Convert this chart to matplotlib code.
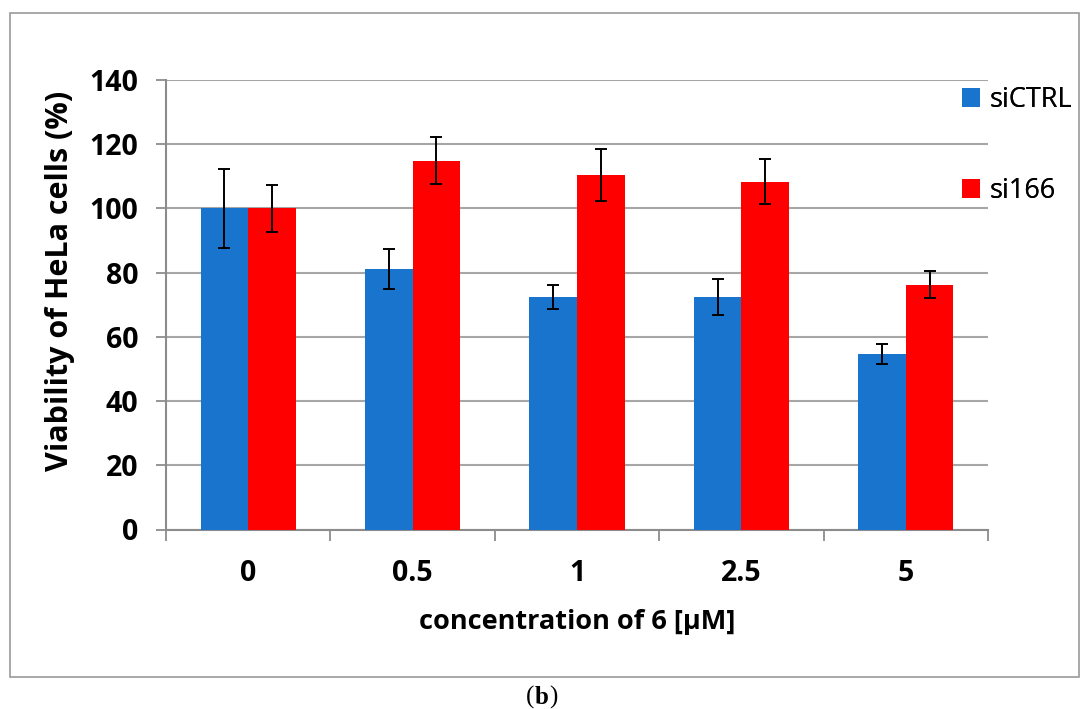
import matplotlib.pyplot as plt
import matplotlib.patches as mpatches
import numpy as np

conc = ["0", "0.5", "1", "2.5", "5"]
ctrl = [100, 81.2, 72.5, 72.4, 54.6]
ctrl_err = [12.3, 6.3, 3.8, 5.7, 3.1]
si166 = [100, 114.9, 110.4, 108.3, 76.3]
si166_err = [7.3, 7.2, 8.0, 7.0, 4.2]

blue = "#1874CD"
red = "#FF0000"
grid_c = "#A6A6A6"
axis_c = "#8C8C8C"

plt.rcParams['font.family'] = ['Open Sans', 'DejaVu Sans']

fig = plt.figure(figsize=(10.83, 7.09), dpi=100)
ax = fig.add_axes([166/1083, 1-529.5/709, 822/1083, 449.5/709])

x = np.arange(len(conc))
w = 0.289
ekw = dict(ecolor="black", elinewidth=1.4, capsize=4.6, capthick=1.4)
b1 = ax.bar(x - w/2, ctrl, w, color=blue, yerr=ctrl_err, error_kw=ekw, zorder=3, label="siCTRL")
b2 = ax.bar(x + w/2, si166, w, color=red, yerr=si166_err, error_kw=ekw, zorder=3, label="si166")

ax.set_xlim(-0.5, len(conc) - 0.5)
ax.set_ylim(0, 140)
ax.set_yticks(range(0, 141, 20))
ax.set_xticks(x)
ax.set_xticklabels(conc)
ax.set_xticks(np.arange(-0.5, len(conc), 1), minor=True)
ax.tick_params(axis="x", which="major", length=0, pad=21, labelsize=20.5)
ax.tick_params(axis="x", which="minor", length=8, width=1.3, color=axis_c, direction="out")
ax.tick_params(axis="y", length=7, width=1.3, color=axis_c, labelsize=20.5, pad=13)
for lab in ax.get_xticklabels() + ax.get_yticklabels():
    lab.set_fontweight("bold")

ax.yaxis.grid(True, color=grid_c, linewidth=1.5, zorder=0)
ax.set_axisbelow(True)
for s in ["top", "right"]:
    ax.spines[s].set_visible(False)
for s in ["left", "bottom"]:
    ax.spines[s].set_color(axis_c)
    ax.spines[s].set_linewidth(1.5)

ax.set_ylabel("Viability of HeLa cells (%)", fontsize=22, fontweight="bold")
ax.yaxis.set_label_coords((75 - 166) / 822, (529.5 - 281) / 449.5)
ax.set_xlabel("concentration of 6 [μM]", fontsize=19.5, fontweight="bold")
ax.xaxis.set_label_coords(0.5, (529.5 - 609) / 449.5)

# two legend rows, placed separately to get the wide gap of the original
for h, yc in [(b1, 100), (b2, 191)]:
    fig.add_artist(fig.legend(handles=[h], loc="center left",
                              bbox_to_anchor=(962/1083, 1 - yc/709),
                              frameon=False, fontsize=19.5, handlelength=0.68,
                              handleheight=0.68, handletextpad=0.35, borderaxespad=0,
                              borderpad=0))

fig.add_artist(mpatches.Rectangle((10/1083, 1-677/709), 1069/1083, 664/709,
                                  transform=fig.transFigure, fill=False,
                                  edgecolor="#9A9A9A", linewidth=1.2))
cy = 1 - 697/709
fig.text(0.5 - 7.5/1083, cy, "(", ha="right", va="center", fontsize=18, family="Liberation Serif")
fig.text(0.5, cy, "b", ha="center", va="center", fontsize=18, family="Liberation Serif",
         fontweight="bold")
fig.text(0.5 + 7.5/1083, cy, ")", ha="left", va="center", fontsize=18, family="Liberation Serif")

fig.savefig("out.png", dpi=100)
